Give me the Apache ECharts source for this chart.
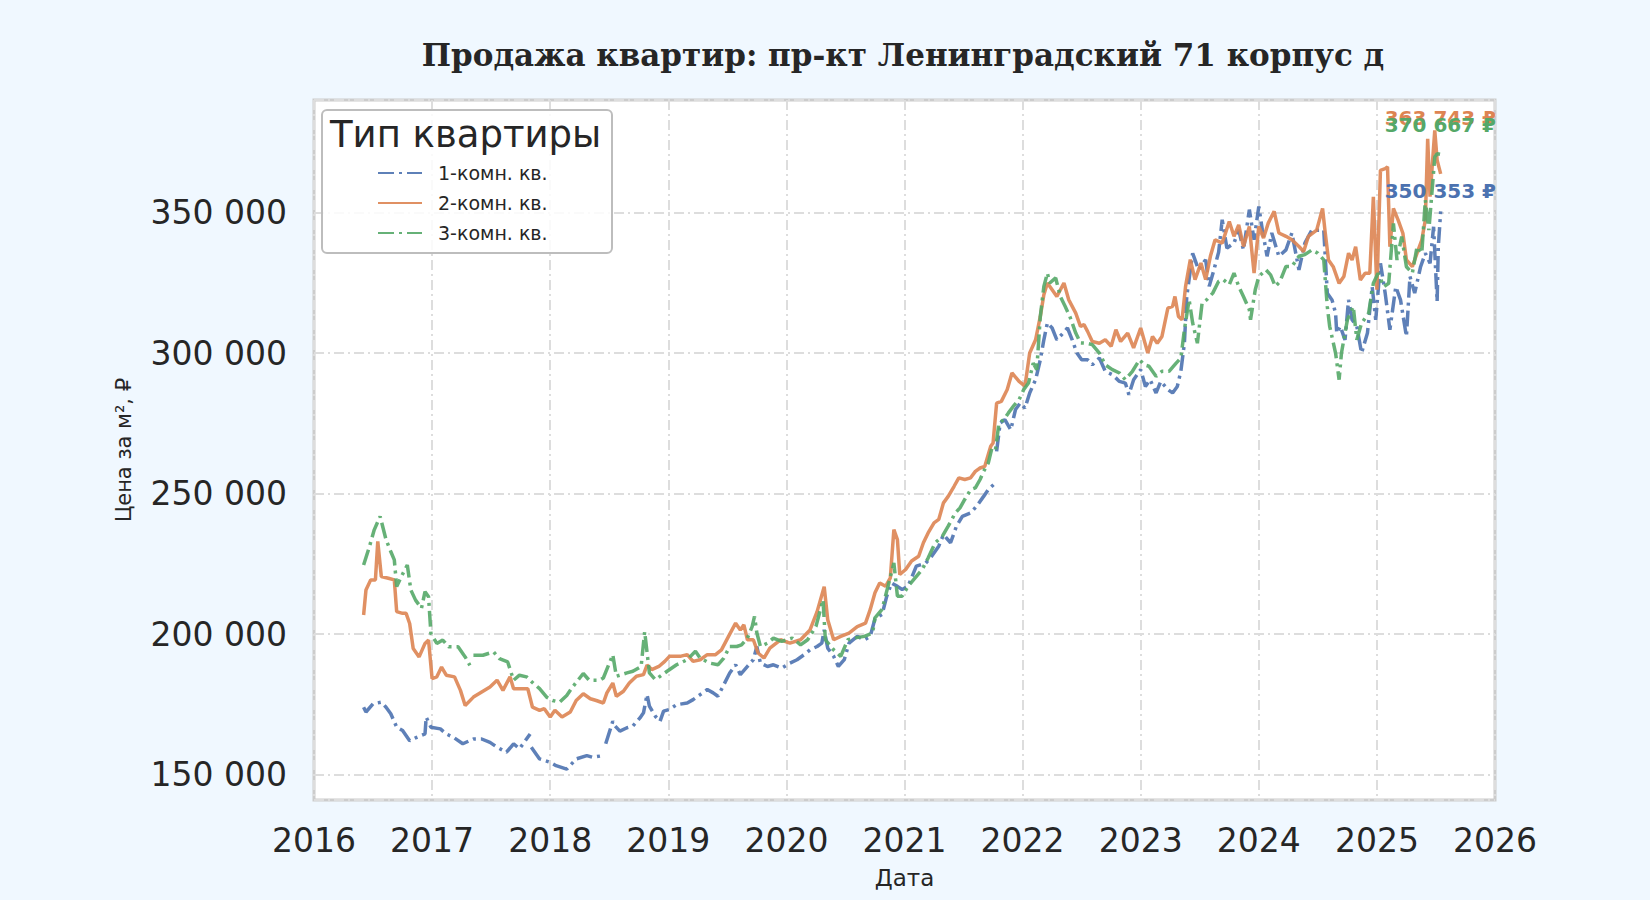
<!DOCTYPE html>
<html>
<head>
<meta charset="utf-8">
<title>Продажа квартир: пр-кт Ленинградский 71 корпус д</title>
<script src="https://cdn.jsdelivr.net/npm/echarts@6/dist/echarts.min.js"></script>
<style>
  html, body { margin: 0; padding: 0; background: #f0f8ff; }
  #chart { width: 1650px; height: 900px; }
</style>
</head>
<body>
<div id="chart"></div>
<script>
// значения: [год (дробный), цена за м²]; null = разрыв линии
var oneRoom = [
  [2016.42, 174000], [2016.44, 172300], [2016.50, 175200], [2016.57, 175800], [2016.61, 174000],
  [2016.65, 171700], [2016.70, 166900], [2016.75, 165700], [2016.81, 162100], [2016.87, 163300],
  [2016.94, 164500], [2016.95, 170500], [2016.99, 166900], [2017.07, 166300], [2017.12, 164500],
  [2017.18, 163300], [2017.26, 161000], [2017.35, 162700], [2017.42, 162700], [2017.49, 161500],
  [2017.55, 159800], [2017.63, 158000], [2017.69, 161000], [2017.74, 159200], [2017.83, 164500],
  [2017.835, null],
  [2017.84, 159800], [2017.91, 155600], [2018.00, 154400], [2018.05, 153200], [2018.14, 152000],
  [2018.22, 155600], [2018.31, 156800], [2018.36, 156200], [2018.45, 156800],
  [2018.46, null],
  [2018.47, 161000], [2018.53, 169000], [2018.55, 167300], [2018.59, 165500], [2018.65, 166700],
  [2018.70, 167300], [2018.76, 170200], [2018.79, 172000], [2018.82, 178500], [2018.84, 174400],
  [2018.89, 170800], [2018.93, 169000], [2018.96, 172600], [2019.01, 173200], [2019.07, 174900],
  [2019.16, 175500], [2019.21, 176700], [2019.27, 178500], [2019.33, 180300], [2019.38, 179100],
  [2019.42, 177900], [2019.47, 182000], [2019.52, 186200], [2019.57, 189100], [2019.61, 185600],
  [2019.67, 188500], [2019.72, 190900], [2019.75, 195600], [2019.78, 189700], [2019.84, 188500],
  [2019.89, 189100], [2019.96, 187900], [2020.03, 189700], [2020.09, 190900], [2020.15, 192700],
  [2020.20, 194400], [2020.26, 195600], [2020.30, 196800], [2020.32, 201500], [2020.35, 195000],
  [2020.40, 192100], [2020.44, 188500], [2020.49, 190900], [2020.53, 196800], [2020.60, 199200],
  [2020.66, 198000], [2020.71, 199200], [2020.75, 205500], [2020.81, 207000], [2020.85, 213500],
  [2020.89, 218200], [2020.94, 217000], [2020.98, 215900], [2021.03, 217000], [2021.10, 224200],
  [2021.18, 225300], [2021.23, 227700], [2021.29, 231300], [2021.33, 235400], [2021.39, 232500],
  [2021.44, 238400], [2021.49, 241900], [2021.56, 243100], [2021.61, 245500], [2021.67, 249000],
  [2021.71, 251400], [2021.77, 253800],
  [2021.775, null],
  [2021.78, 265000], [2021.81, 275100], [2021.85, 276300], [2021.90, 272700], [2021.94, 279900],
  [2021.98, 282200], [2022.02, 280400], [2022.06, 285800], [2022.11, 290500], [2022.15, 297600],
  [2022.18, 304700], [2022.21, 310700], [2022.25, 308900], [2022.29, 304700], [2022.33, 306500],
  [2022.38, 308900], [2022.42, 304700], [2022.46, 300000], [2022.50, 297600], [2022.55, 297600],
  [2022.59, 295800], [2022.65, 298200], [2022.70, 293500], [2022.76, 292300], [2022.82, 289900],
  [2022.87, 289300], [2022.90, 285200], [2022.94, 290500], [2023.00, 294100], [2023.04, 288100],
  [2023.08, 290500], [2023.13, 285800], [2023.17, 289900], [2023.23, 287000], [2023.27, 285800],
  [2023.31, 288100], [2023.34, 293500], [2023.37, 303500], [2023.39, 320100], [2023.44, 335500],
  [2023.49, 329600], [2023.55, 333200], [2023.58, 323700], [2023.62, 329600], [2023.66, 335900],
  [2023.69, 347400], [2023.73, 337300], [2023.79, 339100], [2023.83, 343800], [2023.87, 336700],
  [2023.92, 351000], [2023.96, 340300], [2024.00, 352100], [2024.03, 343800], [2024.07, 334400],
  [2024.11, 342700], [2024.17, 334400], [2024.23, 336700], [2024.28, 342700], [2024.34, 329600],
  [2024.39, 339100], [2024.45, 343800], [2024.50, 343700], [2024.55, 343700], [2024.58, 321300],
  [2024.62, 318900], [2024.65, 314200], [2024.66, 307100], [2024.69, 309500], [2024.73, 304700],
  [2024.76, 318900], [2024.79, 311800], [2024.83, 309500], [2024.87, 300000], [2024.92, 307100],
  [2024.96, 323600], [2024.99, 311800], [2025.03, 331900], [2025.07, 321300], [2025.11, 308300],
  [2025.16, 323600], [2025.20, 318900], [2025.25, 305900], [2025.28, 327200], [2025.32, 321300],
  [2025.37, 330700], [2025.41, 335500], [2025.45, 331900], [2025.48, 344900], [2025.51, 318300],
  [2025.52, 337800], [2025.54, 350353]
];

var twoRoom = [
  [2016.42, 206800], [2016.44, 215700], [2016.48, 219300], [2016.52, 219300], [2016.54, 233000],
  [2016.57, 220500], [2016.63, 219900], [2016.68, 219300], [2016.70, 208000], [2016.75, 207400],
  [2016.78, 207400], [2016.81, 203800], [2016.84, 194900], [2016.89, 191900], [2016.94, 196700],
  [2016.97, 197900], [2017.00, 184200], [2017.04, 184800], [2017.08, 188300], [2017.12, 185400],
  [2017.19, 184800], [2017.24, 180000], [2017.28, 174600], [2017.35, 177600], [2017.42, 179400],
  [2017.49, 181200], [2017.55, 183600], [2017.60, 180000], [2017.66, 184800], [2017.69, 180600],
  [2017.77, 180600], [2017.81, 180600], [2017.85, 174000], [2017.91, 172900], [2017.95, 173500],
  [2018.00, 170500], [2018.04, 172900], [2018.10, 170500], [2018.17, 172300], [2018.22, 176400],
  [2018.28, 178800], [2018.34, 177000], [2018.39, 176400], [2018.45, 175500], [2018.48, 179100],
  [2018.53, 182600], [2018.56, 177900], [2018.62, 179700], [2018.67, 182600], [2018.73, 185000],
  [2018.79, 185600], [2018.82, 189000], [2018.86, 187400], [2018.92, 188500], [2018.97, 190300],
  [2019.01, 192100], [2019.10, 192100], [2019.16, 192700], [2019.21, 190300], [2019.27, 190900],
  [2019.33, 192700], [2019.40, 192700], [2019.45, 194400], [2019.51, 199200], [2019.57, 203900],
  [2019.61, 201500], [2019.64, 203300], [2019.67, 198000], [2019.72, 198000], [2019.76, 193300],
  [2019.81, 191500], [2019.86, 195000], [2019.95, 198000], [2020.03, 196800], [2020.12, 198000],
  [2020.20, 201500], [2020.26, 208000], [2020.32, 216900], [2020.35, 205100], [2020.40, 198000],
  [2020.46, 199200], [2020.53, 200400], [2020.60, 202700], [2020.67, 203900], [2020.71, 208800],
  [2020.75, 214700], [2020.79, 218200], [2020.84, 217000], [2020.88, 220000], [2020.91, 237200],
  [2020.94, 233600], [2020.96, 221200], [2021.01, 223000], [2021.06, 226000], [2021.12, 227700],
  [2021.16, 232500], [2021.20, 236000], [2021.25, 239600], [2021.29, 240800], [2021.33, 246700],
  [2021.37, 249000], [2021.42, 252600], [2021.46, 255600], [2021.51, 255000], [2021.56, 255600],
  [2021.60, 257900], [2021.64, 259100], [2021.68, 259700], [2021.73, 266800], [2021.75, 268000],
  [2021.78, 282200], [2021.82, 282800], [2021.87, 287000], [2021.91, 292900], [2021.97, 289900],
  [2022.02, 288200], [2022.06, 300000], [2022.11, 304700], [2022.15, 313000], [2022.18, 320700],
  [2022.21, 324900], [2022.25, 322500], [2022.29, 320100], [2022.35, 324900], [2022.39, 319000],
  [2022.45, 314200], [2022.49, 309500], [2022.52, 310100], [2022.55, 307700], [2022.59, 304100],
  [2022.65, 303500], [2022.70, 304700], [2022.75, 302400], [2022.79, 308300], [2022.83, 304100],
  [2022.89, 307100], [2022.94, 301800], [2023.00, 308900], [2023.06, 300000], [2023.10, 305900],
  [2023.14, 303500], [2023.18, 305900], [2023.23, 316000], [2023.27, 316600], [2023.29, 320100],
  [2023.32, 313000], [2023.35, 311800], [2023.38, 323700], [2023.42, 333200], [2023.46, 326100],
  [2023.51, 332000], [2023.55, 326100], [2023.59, 334400], [2023.63, 340300], [2023.69, 339100],
  [2023.75, 346800], [2023.79, 341500], [2023.83, 345600], [2023.87, 337900], [2023.92, 345000],
  [2023.96, 328400], [2024.00, 345000], [2024.04, 340900], [2024.08, 346200], [2024.13, 350400],
  [2024.17, 342700], [2024.23, 341500], [2024.28, 340300], [2024.34, 337900], [2024.38, 336100],
  [2024.42, 341500], [2024.49, 343700], [2024.54, 351400], [2024.56, 343700], [2024.59, 333100],
  [2024.63, 330700], [2024.68, 324800], [2024.72, 327200], [2024.76, 335500], [2024.79, 333100],
  [2024.82, 337800], [2024.86, 326000], [2024.90, 328400], [2024.94, 328400], [2024.97, 355600],
  [2025.00, 322500], [2025.03, 365000], [2025.07, 365600], [2025.09, 366200], [2025.11, 337800],
  [2025.14, 351400], [2025.18, 347300], [2025.22, 342600], [2025.25, 333100], [2025.30, 330700],
  [2025.34, 335500], [2025.38, 340200], [2025.41, 347300], [2025.43, 376200], [2025.45, 355600],
  [2025.49, 379200], [2025.51, 368600], [2025.54, 363743]
];

var threeRoom = [
  [2016.42, 224600], [2016.47, 231200], [2016.51, 237100], [2016.56, 241900], [2016.61, 233600],
  [2016.65, 229400], [2016.68, 226400], [2016.70, 216900], [2016.74, 220500], [2016.79, 224600],
  [2016.82, 215700], [2016.86, 212100], [2016.91, 209200], [2016.94, 215100], [2016.97, 213300],
  [2016.99, 200200], [2017.04, 196700], [2017.09, 197900], [2017.14, 195500], [2017.22, 195500],
  [2017.28, 191900], [2017.32, 188900],
  [2017.335, null],
  [2017.35, 192500], [2017.43, 192500], [2017.52, 193700], [2017.57, 191300], [2017.64, 190100],
  [2017.69, 183600], [2017.74, 185400], [2017.80, 184800], [2017.86, 182400], [2017.91, 180600],
  [2017.97, 177600], [2018.02, 176400], [2018.08, 175800], [2018.14, 178200], [2018.19, 181200],
  [2018.28, 186000], [2018.33, 183600], [2018.42, 183600], [2018.45, 184400], [2018.53, 192700],
  [2018.56, 185000], [2018.65, 186200], [2018.70, 186800], [2018.77, 188500], [2018.80, 200900],
  [2018.84, 186200], [2018.89, 183800], [2018.93, 185000], [2018.99, 186800], [2019.07, 189100],
  [2019.16, 190900], [2019.23, 193900], [2019.27, 191500], [2019.35, 189700], [2019.42, 189100],
  [2019.47, 191500], [2019.52, 195600], [2019.58, 195600], [2019.62, 196200], [2019.67, 198600],
  [2019.71, 202700], [2019.73, 206300], [2019.75, 200400], [2019.78, 195600], [2019.84, 196800],
  [2019.89, 198600], [2019.96, 197400], [2020.05, 198600], [2020.12, 196200], [2020.18, 198000],
  [2020.25, 202700], [2020.31, 212200], [2020.33, 198000], [2020.40, 194400], [2020.46, 192100],
  [2020.52, 198000], [2020.57, 198600], [2020.66, 199200], [2020.73, 200400], [2020.75, 205800],
  [2020.81, 208800], [2020.86, 217000], [2020.91, 225300], [2020.94, 213500], [2020.98, 213500],
  [2021.03, 217000], [2021.09, 220000], [2021.15, 223000], [2021.20, 227100], [2021.26, 232500],
  [2021.32, 234800], [2021.37, 238400], [2021.43, 243100], [2021.47, 244900], [2021.51, 247900],
  [2021.56, 251400], [2021.60, 252000], [2021.64, 255000], [2021.67, 257900], [2021.71, 260900],
  [2021.74, 266200], [2021.77, 265600], [2021.80, 275100], [2021.84, 276300], [2021.88, 278700],
  [2021.92, 281000], [2021.97, 283400], [2022.01, 287000], [2022.05, 289300], [2022.09, 296400],
  [2022.12, 294100], [2022.15, 313000], [2022.18, 323700], [2022.21, 328400], [2022.23, 324900],
  [2022.28, 326700], [2022.32, 320100], [2022.36, 316600], [2022.40, 313000], [2022.45, 307100],
  [2022.49, 303600], [2022.54, 303500], [2022.59, 303000], [2022.65, 300000], [2022.70, 295800],
  [2022.76, 294100], [2022.82, 292900], [2022.87, 290500], [2022.93, 293500], [2022.99, 297600],
  [2023.03, 295800], [2023.07, 295300], [2023.13, 291700], [2023.18, 293500], [2023.24, 293500],
  [2023.30, 296400], [2023.34, 298200], [2023.37, 308300], [2023.41, 318900], [2023.44, 310700],
  [2023.48, 303500], [2023.52, 317800], [2023.56, 319000], [2023.61, 321300], [2023.66, 325500],
  [2023.70, 326100], [2023.75, 324300], [2023.79, 328400], [2023.83, 323700], [2023.87, 320100],
  [2023.92, 315400], [2023.93, 311800], [2023.97, 322500], [2024.00, 327200], [2024.06, 329600],
  [2024.10, 327800], [2024.14, 323700], [2024.18, 325500], [2024.23, 330800], [2024.28, 330800],
  [2024.34, 334400], [2024.39, 335000], [2024.45, 336700], [2024.50, 335500], [2024.55, 333100],
  [2024.58, 316500], [2024.60, 309500], [2024.65, 300000], [2024.68, 290500], [2024.70, 300000],
  [2024.75, 311800], [2024.80, 316500], [2024.83, 304700], [2024.87, 310600], [2024.93, 314200],
  [2024.97, 324800], [2025.01, 328400], [2025.06, 323600], [2025.10, 324800], [2025.14, 346100],
  [2025.17, 333100], [2025.21, 341400], [2025.25, 330700], [2025.30, 328400], [2025.34, 337800],
  [2025.38, 335500], [2025.41, 354400], [2025.44, 343700], [2025.47, 359100], [2025.49, 369700],
  [2025.51, 370900], [2025.54, 370667]
];

var seriesNames = ['1-комн. кв.', '2-комн. кв.', '3-комн. кв.'];
var seriesColors = ['#4C72B0', '#DD8452', '#55A868'];
var lastLabelOffsets = [[-56, -20], [-56, -56], [-56, -29]];

var chart = echarts.init(document.getElementById('chart'), null, { renderer: 'svg' });

function fmtNum(v) {
  return String(Math.round(v)).replace(/\B(?=(\d{3})+(?!\d))/g, ' ');
}

function makeSeries(data, idx, dashType) {
  var last = data[data.length - 1];
  return {
    name: seriesNames[idx],
    type: 'line',
    data: data,
    showSymbol: false,
    symbol: 'none',
    connectNulls: false,
    color: seriesColors[idx],
    lineStyle: { width: 3.5, type: dashType, opacity: 0.9 },
    emphasis: { disabled: true },
    markPoint: {
      symbol: 'circle',
      symbolSize: 0,
      data: [{ coord: last, value: last[1] }],
      label: {
        show: true,
        position: 'inside',
        align: 'left',
        verticalAlign: 'middle',
        offset: lastLabelOffsets[idx],
        color: seriesColors[idx],
        fontFamily: 'DejaVu Sans',
        fontWeight: 'bold',
        fontSize: 20,
        formatter: function (p) { return fmtNum(p.value) + ' ₽'; }
      }
    }
  };
}

var option = {
  backgroundColor: '#f0f8ff',
  animation: false,
  textStyle: { fontFamily: 'DejaVu Sans' },
  grid: {
    left: 314, right: 155, top: 100, bottom: 100,
    show: true, backgroundColor: '#ffffff',
    borderColor: '#cccccc', borderWidth: 3
  },
  graphic: [
    {
      type: 'text', x: 903, y: 55,
      style: {
        text: 'Продажа квартир: пр-кт Ленинградский 71 корпус д',
        fontFamily: 'DejaVu Serif', fontWeight: 'bold', fontSize: 31,
        fill: '#262626', align: 'center', verticalAlign: 'middle'
      }
    },
    {
      type: 'rect', z: 10,
      shape: { x: 322, y: 110, width: 290, height: 143, r: 5 },
      style: { fill: 'rgba(255,255,255,0.85)', stroke: '#bdbdbd', lineWidth: 2 }
    },
    {
      type: 'text', x: 330, y: 134, z: 11,
      style: {
        text: 'Тип квартиры', fontFamily: 'DejaVu Sans', fontSize: 37,
        fill: '#262626', align: 'left', verticalAlign: 'middle'
      }
    }
  ],
  legend: {
    orient: 'vertical',
    left: 377, top: 163,
    z: 12,
    padding: 0,
    itemWidth: 44, itemHeight: 14, itemGap: 10,
    itemStyle: { opacity: 0 },
    textStyle: {
      fontFamily: 'DejaVu Sans', fontSize: 19, color: '#262626',
      lineHeight: 20, padding: [0, 0, 0, 11]
    },
    data: seriesNames
  },
  xAxis: {
    type: 'value',
    min: 2016, max: 2026, interval: 1,
    name: 'Дата', nameLocation: 'middle', nameGap: 66,
    nameTextStyle: { fontFamily: 'DejaVu Sans', fontSize: 23, color: '#262626' },
    axisLine: { show: false },
    axisTick: { show: false },
    axisLabel: {
      margin: 24, fontFamily: 'DejaVu Sans', fontSize: 33, color: '#262626',
      formatter: function (v) { return String(v); }
    },
    splitLine: { show: true, lineStyle: { color: '#dddddd', width: 2, type: [10, 4, 2, 4] } }
  },
  yAxis: {
    type: 'value',
    min: 141000, max: 390000, splitNumber: 5,
    name: 'Цена за м², ₽', nameLocation: 'middle', nameGap: 180,
    nameTextStyle: { fontFamily: 'DejaVu Sans', fontSize: 21, color: '#262626' },
    axisLine: { show: false },
    axisTick: { show: false },
    axisLabel: {
      margin: 27, fontFamily: 'DejaVu Sans', fontSize: 33, color: '#262626',
      showMinLabel: false, showMaxLabel: false,
      formatter: function (v) { return fmtNum(v); }
    },
    splitLine: { show: true, lineStyle: { color: '#dddddd', width: 2, type: [10, 4, 2, 4] } }
  },
  series: [
    makeSeries(oneRoom, 0, [16, 5, 3, 5]),
    makeSeries(twoRoom, 1, 'solid'),
    makeSeries(threeRoom, 2, [16, 5, 3, 5])
  ]
};

chart.setOption(option);
</script>
</body>
</html>
